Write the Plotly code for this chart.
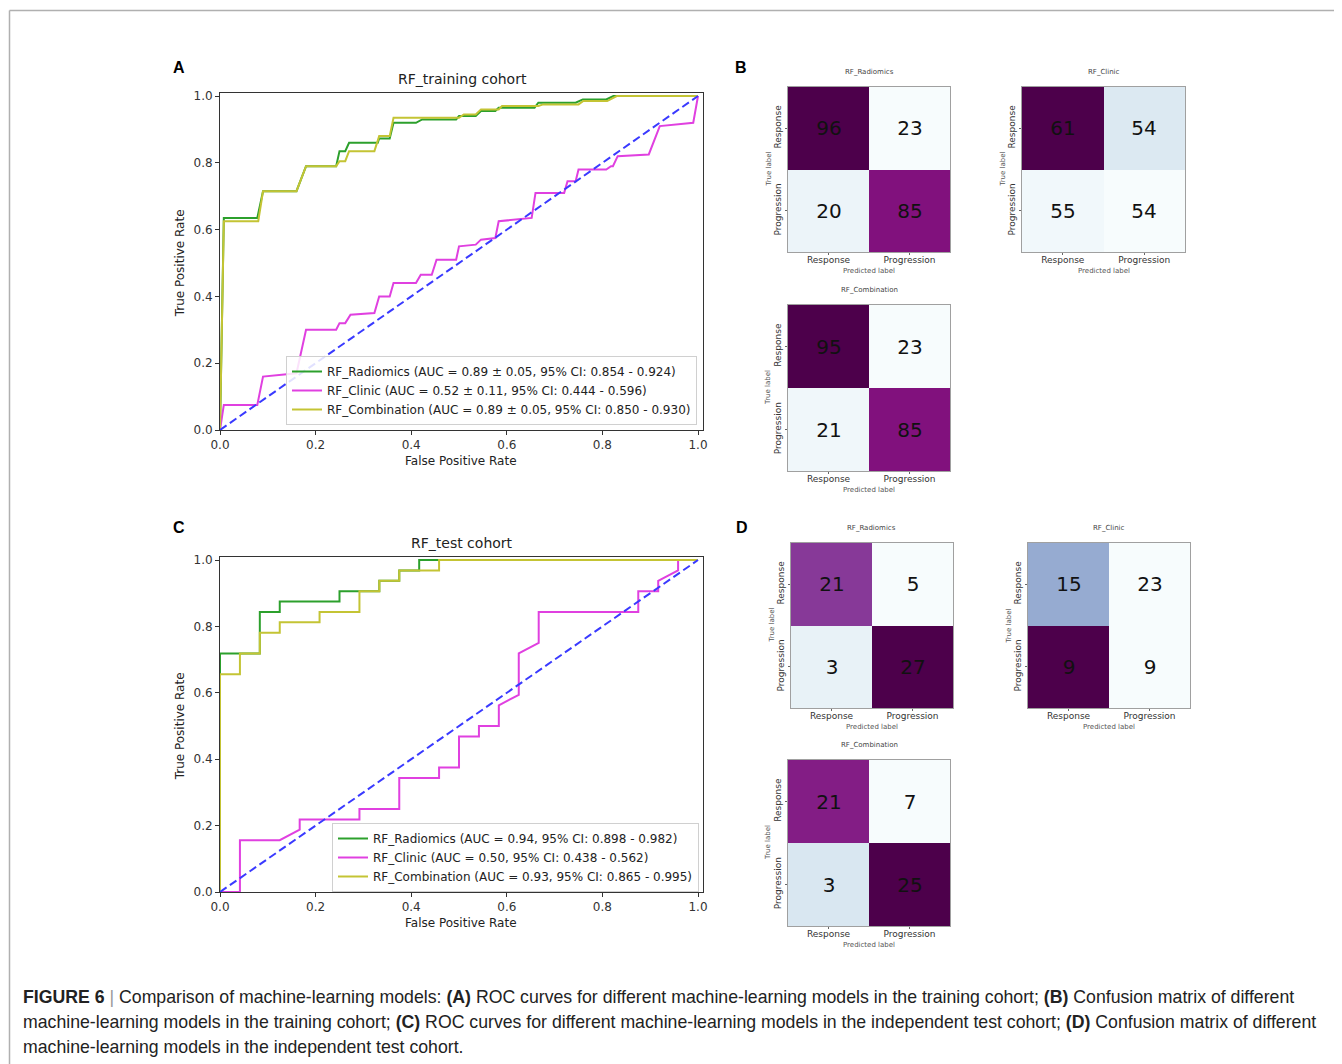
import plotly.graph_objects as go

# ---------------- data ----------------
# Training cohort ROC curves (FPR, TPR)
train_rad_fpr = [0, 0.008, 0.078, 0.09, 0.16, 0.18, 0.243, 0.25, 0.262, 0.27, 0.33, 0.333, 0.355, 0.363, 0.41,
                 0.423, 0.494, 0.50, 0.535, 0.546, 0.576, 0.583, 0.658, 0.666, 0.744, 0.759, 0.808, 0.823, 1.0]
train_rad_tpr = [0, 0.635, 0.635, 0.715, 0.715, 0.79, 0.79, 0.835, 0.835, 0.86, 0.86, 0.873, 0.873, 0.92, 0.92,
                 0.93, 0.93, 0.94, 0.94, 0.955, 0.955, 0.965, 0.965, 0.98, 0.98, 0.99, 0.99, 1.0, 1.0]
train_cli_fpr = [0, 0.008, 0.078, 0.09, 0.16, 0.18, 0.243, 0.25, 0.262, 0.273, 0.323, 0.333, 0.355, 0.363, 0.41,
                 0.42, 0.443, 0.453, 0.494, 0.50, 0.535, 0.546, 0.576, 0.583, 0.652, 0.66, 0.72, 0.727, 0.744,
                 0.75, 0.808, 0.818, 0.822, 0.832, 0.897, 0.92, 0.99, 1.0]
train_cli_tpr = [0, 0.075, 0.075, 0.16, 0.17, 0.30, 0.30, 0.32, 0.32, 0.345, 0.35, 0.40, 0.40, 0.44, 0.44,
                 0.465, 0.465, 0.51, 0.51, 0.55, 0.555, 0.57, 0.575, 0.625, 0.635, 0.71, 0.71, 0.745, 0.745,
                 0.78, 0.78, 0.79, 0.79, 0.82, 0.825, 0.91, 0.92, 1.0]
train_com_fpr = [0, 0.008, 0.08, 0.09, 0.16, 0.18, 0.243, 0.25, 0.262, 0.27, 0.323, 0.333, 0.355, 0.363, 0.50,
                 0.51, 0.535, 0.546, 0.583, 0.59, 0.666, 0.676, 0.75, 0.76, 0.81, 0.83, 1.0]
train_com_tpr = [0, 0.625, 0.625, 0.715, 0.715, 0.79, 0.79, 0.805, 0.805, 0.835, 0.835, 0.88, 0.88, 0.935, 0.935,
                 0.945, 0.945, 0.96, 0.96, 0.97, 0.97, 0.975, 0.975, 0.985, 0.985, 1.0, 1.0]

# Test cohort ROC curves (FPR, TPR)
test_rad_fpr = [0, 0, 0.0833, 0.0833, 0.125, 0.125, 0.25, 0.25, 0.3333, 0.3333, 0.375, 0.375, 0.4167, 0.4167, 1.0]
test_rad_tpr = [0, 0.71875, 0.71875, 0.84375, 0.84375, 0.875, 0.875, 0.90625, 0.90625, 0.9375, 0.9375,
                0.96875, 0.96875, 1.0, 1.0]
test_cli_fpr = [0, 0.0417, 0.0417, 0.125, 0.1667, 0.1667, 0.2917, 0.2917, 0.375, 0.375, 0.4583, 0.4583, 0.5, 0.5,
                0.5417, 0.5417, 0.5833, 0.5833, 0.625, 0.625, 0.6667, 0.6667, 0.875, 0.875, 0.9167, 0.9167,
                0.9583, 0.9583, 1.0]
test_cli_tpr = [0, 0, 0.15625, 0.15625, 0.1875, 0.21875, 0.21875, 0.25, 0.25, 0.34375, 0.34375, 0.375, 0.375,
                0.46875, 0.46875, 0.5, 0.5, 0.5625, 0.59375, 0.71875, 0.75, 0.84375, 0.84375, 0.90625, 0.90625,
                0.9375, 0.96875, 1.0, 1.0]
test_com_fpr = [0, 0, 0.0417, 0.0417, 0.0833, 0.0833, 0.125, 0.125, 0.2083, 0.2083, 0.2917, 0.2917, 0.3333,
                0.3333, 0.375, 0.375, 0.4583, 0.4583, 1.0]
test_com_tpr = [0, 0.65625, 0.65625, 0.71875, 0.71875, 0.78125, 0.78125, 0.8125, 0.8125, 0.84375, 0.84375,
                0.90625, 0.90625, 0.9375, 0.9375, 0.96875, 0.96875, 1.0, 1.0]

train_labels = ["RF_Radiomics (AUC = 0.89 ± 0.05, 95% CI: 0.854 - 0.924)",
                "RF_Clinic (AUC = 0.52 ± 0.11, 95% CI: 0.444 - 0.596)",
                "RF_Combination (AUC = 0.89 ± 0.05, 95% CI: 0.850 - 0.930)"]
test_labels = ["RF_Radiomics (AUC = 0.94, 95% CI: 0.898 - 0.982)",
               "RF_Clinic (AUC = 0.50, 95% CI: 0.438 - 0.562)",
               "RF_Combination (AUC = 0.93, 95% CI: 0.865 - 0.995)"]
diag = [0, 1]

# Confusion matrices: counts and cell shade (0-1 on BuPu)
class_labels = ["Response", "Progression"]
cm_titles = ["RF_Radiomics", "RF_Clinic", "RF_Combination"]
cm_train_rad = [[96, 23], [20, 85]]
cm_train_cli = [[61, 54], [55, 54]]
cm_train_com = [[95, 23], [21, 85]]
cm_test_rad = [[21, 5], [3, 27]]
cm_test_cli = [[15, 23], [9, 9]]
cm_test_com = [[21, 7], [3, 25]]
shade_train_rad = [[1.0, 0.0], [0.06, 0.87]]
shade_train_cli = [[1.0, 0.14], [0.03, 0.0]]
shade_train_com = [[1.0, 0.0], [0.04, 0.87]]
shade_test_rad = [[0.77, 0.0], [0.08, 1.0]]
shade_test_cli = [[0.43, 0.0], [1.0, 0.0]]
shade_test_com = [[0.84, 0.0], [0.15, 1.0]]

tick_vals = [0, 0.2, 0.4, 0.6, 0.8, 1.0]

# ---------------- layout helpers ----------------
# the page body has an 8px margin, so the figure is sized/offset to fill the window
OFF = 8
W, H = 1342 - OFF, 1064 - OFF
def px(x): return (x - OFF) / W
def py(y): return 1 - (y - OFF) / H

GREEN, MAGENTA, YELLOW, BLUE = "#2ca02c", "#e040e0", "#c4c434", "#3a3aff"
BUPU = [[0.0, "#f7fcfd"], [0.125, "#e0ecf4"], [0.25, "#bfd3e6"], [0.375, "#9ebcda"], [0.5, "#8c96c6"],
        [0.625, "#8c6bb1"], [0.75, "#88419d"], [0.875, "#810f7c"], [1.0, "#4d004b"]]

fig = go.Figure()
annotations = []
def ann(text, x, y, size, color="#222", angle=0, xanchor="center", yanchor="middle", family=None):
    d = dict(text=text, x=px(x), y=py(y), xref="paper", yref="paper", showarrow=False,
             font=dict(size=size, color=color), textangle=angle, xanchor=xanchor, yanchor=yanchor)
    if family:
        d["font"]["family"] = family
    annotations.append(d)

# ---------------- ROC panels ----------------
roc_panels = [
    dict(xa="x", ya="y", legend="legend", top=92.7, bottom=430, title="RF_training cohort",
         series=[(train_rad_fpr, train_rad_tpr, GREEN), (train_cli_fpr, train_cli_tpr, MAGENTA),
                 (train_com_fpr, train_com_tpr, YELLOW)], labels=train_labels),
    dict(xa="x2", ya="y2", legend="legend2", top=556.7, bottom=892, title="RF_test cohort",
         series=[(test_rad_fpr, test_rad_tpr, GREEN), (test_cli_fpr, test_cli_tpr, MAGENTA),
                 (test_com_fpr, test_com_tpr, YELLOW)], labels=test_labels),
]
for i, p in enumerate(roc_panels):
    for (fx, ty, col), lab in zip(p["series"], p["labels"]):
        fig.add_trace(go.Scatter(x=fx, y=ty, mode="lines", line=dict(color=col, width=2), name=lab,
                                 xaxis=p["xa"], yaxis=p["ya"], legend=p["legend"]))
    fig.add_trace(go.Scatter(x=diag, y=diag, mode="lines", line=dict(color=BLUE, width=2, dash="8px,4px"),
                             showlegend=False, xaxis=p["xa"], yaxis=p["ya"]))
    sfx = "" if i == 0 else "2"
    common = dict(showline=True, mirror=True, linecolor="#333", linewidth=1, ticks="outside", ticklen=4,
                  tickcolor="#333", tickvals=tick_vals, tickformat=".1f", showgrid=False, zeroline=False,
                  tickfont=dict(size=12, color="#333"), automargin=False, range=[0, 1.01])
    fig.update_layout(**{
        "xaxis" + sfx: dict(domain=[px(220), px(702.8)], anchor="y" + sfx, **common),
        "yaxis" + sfx: dict(domain=[py(p["bottom"]), py(p["top"])], anchor="x" + sfx, **common),
    })
    ann(p["title"], 462, p["top"] - 14, 14)
    ann("False Positive Rate", 461, p["bottom"] + 31, 12)
    ann("True Positive Rate", 180, (p["top"] + p["bottom"]) / 2 + 2, 12, angle=-90)

leg_common = dict(bgcolor="rgba(255,255,255,0.85)", bordercolor="#d0d0d0", borderwidth=1,
                  font=dict(size=12, color="#222"), xanchor="left", yanchor="top", tracegroupgap=0)
fig.update_layout(legend=dict(x=px(286), y=py(356), **leg_common),
                  legend2=dict(x=px(332), y=py(823), **leg_common))

# ---------------- confusion matrices ----------------
cms = [
    (cm_titles[0], cm_train_rad, shade_train_rad, 788, 950, 87, 252),
    (cm_titles[1], cm_train_cli, shade_train_cli, 1022, 1185, 87, 252),
    (cm_titles[2], cm_train_com, shade_train_com, 788, 950, 305, 471),
    (cm_titles[0], cm_test_rad, shade_test_rad, 791, 953, 543, 708),
    (cm_titles[1], cm_test_cli, shade_test_cli, 1028, 1190, 543, 708),
    (cm_titles[2], cm_test_com, shade_test_com, 788, 950, 760, 926),
]
for k, (title, counts, shade, x0, x1, y0, y1) in enumerate(cms):
    n = k + 3
    fig.add_trace(go.Heatmap(z=shade, x=[0, 1], y=[0, 1], text=counts, texttemplate="%{text}",
                             textfont=dict(size=20, color="#111"), colorscale=BUPU, zmin=0, zmax=1,
                             showscale=False, hoverinfo="skip", xaxis=f"x{n}", yaxis=f"y{n}"))
    hm_common = dict(showline=True, mirror=True, linecolor="#a0a0a0", linewidth=1, ticks="outside", ticklen=2,
                     tickcolor="#666", tickvals=[0, 1], ticktext=class_labels, showgrid=False, zeroline=False,
                     tickfont=dict(size=9, color="#333"), automargin=False)
    fig.update_layout(**{
        f"xaxis{n}": dict(domain=[px(x0), px(x1)], anchor=f"y{n}", range=[-0.5, 1.5], ticklabelstandoff=-3,
                          **hm_common),
        f"yaxis{n}": dict(domain=[py(y1), py(y0)], anchor=f"x{n}", range=[1.5, -0.5], tickangle=-90,
                          **hm_common),
    })
    cx, cy = (x0 + x1) / 2, (y0 + y1) / 2
    ann(title, cx, y0 - 15, 7, color="#444")
    ann("Predicted label", cx, y1 + 19, 7, color="#555")
    ann("True label", x0 - 20, cy, 7, color="#555", angle=-90)

# ---------------- panel letters & caption ----------------
for letter, x, y in [("A", 179, 67), ("B", 741, 67), ("C", 179, 527), ("D", 742, 527)]:
    ann(f"<b>{letter}</b>", x, y, 16, color="#000", family="Liberation Sans")

caption = [
    "<b>FIGURE 6</b> <span style='color:#999'>|</span> Comparison of machine-learning models: <b>(A)</b> ROC curves "
    "for different machine-learning models in the training cohort; <b>(B)</b> Confusion matrix of different",
    "machine-learning models in the training cohort; <b>(C)</b> ROC curves for different machine-learning models "
    "in the independent test cohort; <b>(D)</b> Confusion matrix of different",
    "machine-learning models in the independent test cohort.",
]
for i, line in enumerate(caption):
    ann(line, 21, 997 + 25 * i, 17.7, color="#222", xanchor="left", family="Liberation Sans")

shapes = [
    dict(type="line", xref="paper", yref="paper", x0=px(9.5), x1=1, y0=py(10.5), y1=py(10.5),
         line=dict(color="#b0b0b0", width=1.5)),
    dict(type="line", xref="paper", yref="paper", x0=px(9.5), x1=px(9.5), y0=py(10.5), y1=0,
         line=dict(color="#b0b0b0", width=1.5)),
]

fig.update_layout(width=W, height=H, margin=dict(l=0, r=0, t=0, b=0), paper_bgcolor="white",
                  plot_bgcolor="white", font=dict(family="DejaVu Sans", color="#222"),
                  annotations=annotations, shapes=shapes)
fig.write_html("out.html")
